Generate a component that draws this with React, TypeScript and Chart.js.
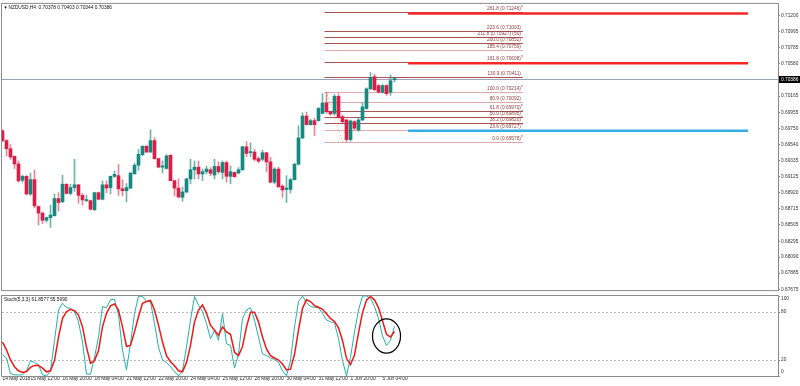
import React, { useEffect, useRef } from 'react';
import { Chart, registerables } from 'chart.js';

Chart.register(...registerables);

// ---------- data ----------
const SYMBOL = 'NZDUSD';
const PERIOD = 'H4';

const OPEN = [0.69718,0.69591,0.69486,0.69388,0.69290,0.69080,0.69131,0.68903,0.69088,0.68742,
0.68657,0.68565,0.68599,0.68624,0.68844,0.68802,0.69029,0.68911,0.68986,0.69021,
0.68885,0.68818,0.68818,0.68700,0.68920,0.68835,0.69021,0.68986,0.69131,0.69139,
0.68970,0.68945,0.68979,0.69164,0.69274,0.69410,0.69519,0.69443,0.69591,0.69359,
0.69249,0.69232,0.69401,0.69075,0.68979,0.68860,0.68929,0.69097,0.69215,0.69249,
0.69161,0.69190,0.69215,0.69148,0.69258,0.69181,0.69308,0.69131,0.69181,0.69173,
0.69215,0.69511,0.69436,0.69443,0.69359,0.69350,0.69435,0.69317,0.69055,0.69224,
0.69004,0.68962,0.68962,0.69088,0.69287,0.69625,0.69907,0.69797,0.69848,0.69848,
0.69941,0.70076,0.69962,0.69941,0.70161,0.69899,0.69857,0.69604,0.69835,0.69730,
0.69857,0.70005,0.70258,0.70414,0.70300,0.70215,0.70300,0.70215,0.70378];
const HIGH = [0.69730,0.69604,0.69540,0.69395,0.69329,0.69148,0.69141,0.69173,0.69211,0.68748,
0.68666,0.68607,0.68759,0.68903,0.68920,0.69148,0.69034,0.69029,0.69350,0.69027,
0.68911,0.68885,0.68825,0.68926,0.68929,0.69072,0.69072,0.69135,0.69198,0.69284,
0.69088,0.69037,0.69178,0.69300,0.69477,0.69521,0.69524,0.69730,0.69629,0.69363,
0.69329,0.69410,0.69410,0.69078,0.69097,0.68992,0.69106,0.69350,0.69329,0.69329,
0.69224,0.69258,0.69243,0.69350,0.69317,0.69329,0.69329,0.69265,0.69186,0.69243,
0.69519,0.69578,0.69562,0.69477,0.69384,0.69468,0.69439,0.69376,0.69243,0.69249,
0.69021,0.69139,0.69106,0.69300,0.69781,0.69949,0.69958,0.69866,0.69878,0.70018,
0.70195,0.70214,0.69971,0.70186,0.70195,0.69920,0.69863,0.69857,0.69848,0.69878,
0.70076,0.70271,0.70469,0.70448,0.70313,0.70313,0.70313,0.70439,0.70403];
const LOW = [0.69578,0.69393,0.69350,0.69232,0.69055,0.69055,0.68894,0.68885,0.68726,0.68505,
0.68523,0.68540,0.68472,0.68616,0.68683,0.68793,0.68903,0.68894,0.68936,0.68784,
0.68759,0.68802,0.68692,0.68692,0.68827,0.68827,0.68920,0.68903,0.69113,0.68885,
0.68877,0.68802,0.68970,0.69156,0.69207,0.69393,0.69439,0.69439,0.69350,0.69240,
0.69173,0.69224,0.69072,0.68877,0.68852,0.68809,0.68916,0.69034,0.69097,0.69097,
0.69075,0.69161,0.69139,0.69097,0.69164,0.69097,0.69055,0.69034,0.69118,0.69164,
0.69207,0.69384,0.69384,0.69329,0.69308,0.69329,0.69190,0.69046,0.69034,0.68986,
0.68860,0.68793,0.68916,0.69080,0.69274,0.69617,0.69789,0.69789,0.69654,0.69840,
0.69933,0.69941,0.69920,0.69920,0.69878,0.69815,0.69576,0.69582,0.69730,0.69709,
0.69848,0.69992,0.70246,0.70237,0.70202,0.70202,0.70173,0.70173,0.70344];
const CLOSE = [0.69591,0.69486,0.69380,0.69290,0.69072,0.69131,0.68903,0.69088,0.68751,0.68657,
0.68565,0.68599,0.68632,0.68844,0.68793,0.69029,0.68911,0.68986,0.69021,0.68885,
0.68827,0.68822,0.68708,0.68920,0.68835,0.69021,0.68979,0.69131,0.69156,0.68970,
0.68945,0.68986,0.69173,0.69274,0.69414,0.69519,0.69443,0.69591,0.69359,0.69249,
0.69265,0.69393,0.69075,0.68979,0.68865,0.68929,0.69097,0.69215,0.69249,0.69161,
0.69190,0.69224,0.69169,0.69258,0.69190,0.69308,0.69131,0.69190,0.69126,0.69215,
0.69511,0.69426,0.69439,0.69350,0.69325,0.69435,0.69317,0.69055,0.69224,0.68996,
0.68954,0.68979,0.69088,0.69287,0.69625,0.69907,0.69797,0.69848,0.69797,0.70005,
0.70076,0.69962,0.69933,0.70161,0.69891,0.69835,0.69604,0.69844,0.69751,0.69857,
0.70025,0.70258,0.70405,0.70246,0.70215,0.70300,0.70195,0.70363,0.70386];

const STOCH_K = [26.8,22.5,3.1,1.4,1.4,1.4,6.5,19.2,17.0,14.1,
1.4,0.1,6.5,44.5,82.5,91.0,85.5,84.6,80.4,67.7,
42.4,2.3,2.3,23.4,48.7,86.8,85.5,95.2,96.1,76.2,
31.8,7.7,40.3,78.3,99.9,99.4,93.1,93.1,65.6,36.1,
20.0,17.0,11.6,5.6,0.1,6.5,36.1,69.9,99.4,88.9,
80.4,65.6,46.6,57.2,44.5,78.3,40.3,38.2,9.9,27.6,
72.0,82.5,85.5,69.9,48.7,27.6,25.5,22.5,20.8,17.0,
6.5,0.1,19.2,61.4,93.1,100,91.8,86.8,85.9,85.5,
78.3,69.9,67.7,66.5,46.6,19.2,0.1,23.4,55.1,82.5,
100,100,97.3,86.8,72.0,50.0,38.2,44.5,61.9];
const STOCH_D = [42.4,32.7,20.0,11.6,6.5,4.4,5.6,10.7,13.2,13.2,
9.9,5.2,6.5,19.2,48.7,72.0,80.4,83.4,81.7,76.2,
61.4,36.1,15.8,19.2,31.8,61.4,78.3,87.6,90.1,82.5,
61.4,36.9,38.2,55.1,74.1,91.0,93.1,94.4,82.5,63.5,
42.4,25.5,17.9,12.8,6.5,5.2,17.0,38.2,67.7,82.5,
88.9,78.3,63.5,57.2,50.8,61.4,55.1,52.1,29.7,25.5,
36.9,61.4,79.6,79.6,67.7,48.7,33.9,25.5,22.5,20.0,
14.9,7.7,8.6,26.8,57.2,84.6,95.2,93.1,88.0,85.9,
83.4,77.9,72.0,68.2,60.1,44.5,22.1,14.1,26.3,53.8,
79.2,94.8,99.4,95.2,85.5,69.0,52.0,48.7,55.6];
const STOCH_NAME = 'Stoch(5,3,3)';
const STOCH_HEADER = [61.8577, 55.599];
const STOCH_LEVELS = [80, 20];
const STOCH_TICKS = [100, 80, 20, 0];

const TIME_LABEL_BARS = [0, 7, 15, 23, 31, 39, 47, 55, 63, 71, 79, 87, 95];
const TIME_LABELS = ['14 May 2018', '15 May 12:00', '16 May 20:00', '18 May 04:00', '21 May 12:00',
  '22 May 20:00', '24 May 04:00', '25 May 12:00', '28 May 20:00', '30 May 04:00', '31 May 12:00',
  '1 Jun 20:00', '5 Jun 04:00'];

const PRICE_TICKS = [0.712, 0.70995, 0.70785, 0.7058, 0.70165, 0.69955, 0.6975, 0.6954, 0.69335,
  0.69125, 0.6892, 0.68715, 0.68505, 0.68295, 0.6809, 0.67885, 0.67675];

const FIB_LEVELS = [261.8, 223.6, 211.8, 200.0, 185.4, 161.8, 130.9, 100.0, 80.9, 61.8, 50.0, 38.2, 23.6, 0.0];
const FIB_PRICES = [0.71246, 0.71003, 0.70927, 0.70852, 0.70759, 0.70608, 0.70411, 0.70214, 0.70092,
  0.6997, 0.69895, 0.6982, 0.69727, 0.69576];
const FIB_SUFFIX = ['', '', ' (50)', '', '', '', '', '', '', '', '', '', '', ''];
const FIB_MARK = [true, false, false, false, false, true, false, true, false, true, true, true, true, true];
const FIB_DARK = [true, true, true, true, false, true, true, false, false, true, true, true, false, false];
const FIB_SPAN_BARS = [80.5, 130.1];
const FIB_TREND_BARS = [81, 85];
const FIB_TREND_PRICES = [0.70214, 0.69576];

const HLINE_PRICES = [0.71229, 0.70588, 0.69718];
const HLINE_COLORS = ['#f52828', '#f52828', '#35aee6'];
const HLINE_SPAN_BARS = [101.4, 186.4];

const CIRCLE_CENTER = [96, 50];
const CIRCLE_RADII = [3.5, 21.5];

// ---------- style ----------
const FONT_FAMILY = '"Liberation Sans", Arial, sans-serif';
const FONT_SIZE = 4.8;
const X_MIN = -0.125;
const X_MAX = 193.875;
const PRICE_MIN = 0.67652;
const PRICE_MAX = 0.71352;
const BULL = '#14897f';
const BULL_WICK = 'rgba(20,137,127,0.62)';
const BEAR = '#de1d47';
const BEAR_WICK = 'rgba(222,29,71,0.55)';
const FRAME = '#8a8a8a';

const font = (size = FONT_SIZE) => `${size}px ${FONT_FAMILY}`;

const mainPlugin = {
  id: 'mt4main',
  beforeDatasetsDraw(chart: any) {
    const { ctx, chartArea: a, scales } = chart;
    const x = scales.x, y = scales.y;
    ctx.save();
    ctx.beginPath();
    ctx.rect(a.left, a.top, a.right - a.left, a.bottom - a.top);
    ctx.clip();
    // current price line
    const last = CLOSE.length - 1;
    const cy = Math.round(y.getPixelForValue(CLOSE[last])) + 0.5;
    ctx.strokeStyle = '#98a4b7';
    ctx.lineWidth = 1;
    ctx.beginPath(); ctx.moveTo(a.left, cy); ctx.lineTo(a.right, cy); ctx.stroke();

    // fibonacci
    const fx1 = x.getPixelForValue(FIB_SPAN_BARS[0]);
    const fx2 = x.getPixelForValue(FIB_SPAN_BARS[1]);
    ctx.font = font();
    FIB_PRICES.forEach((p, i) => {
      const py = Math.round(y.getPixelForValue(p)) + 0.5;
      ctx.strokeStyle = FIB_DARK[i] ? '#a85454' : '#dcaaaa';
      ctx.lineWidth = 1;
      ctx.beginPath(); ctx.moveTo(fx1, py); ctx.lineTo(fx2, py); ctx.stroke();
      ctx.fillStyle = '#8e3b3b';
      ctx.textAlign = 'right';
      ctx.textBaseline = 'alphabetic';
      const label = `${FIB_LEVELS[i].toFixed(1)} (${p.toFixed(5)})${FIB_SUFFIX[i]}`;
      ctx.fillText(label, fx2 - 2, py - 2.5);
      if (FIB_MARK[i]) {
        ctx.textAlign = 'left';
        ctx.fillText('*', fx2 - 1.8, py - 4);
      }
    });
    // fib trend line (dotted)
    ctx.strokeStyle = '#f3b56a';
    ctx.setLineDash([1, 2]);
    ctx.beginPath();
    ctx.moveTo(x.getPixelForValue(FIB_TREND_BARS[0]), y.getPixelForValue(FIB_TREND_PRICES[0]));
    ctx.lineTo(x.getPixelForValue(FIB_TREND_BARS[1]), y.getPixelForValue(FIB_TREND_PRICES[1]));
    ctx.stroke();
    ctx.setLineDash([]);

    // thick horizontal lines
    const hx1 = x.getPixelForValue(HLINE_SPAN_BARS[0]);
    const hx2 = x.getPixelForValue(HLINE_SPAN_BARS[1]);
    HLINE_PRICES.forEach((p, i) => {
      const py = y.getPixelForValue(p);
      ctx.strokeStyle = HLINE_COLORS[i];
      ctx.lineWidth = 2.4;
      ctx.beginPath(); ctx.moveTo(hx1, py); ctx.lineTo(hx2, py); ctx.stroke();
    });
    ctx.restore();
  },
  afterDraw(chart: any) {
    const { ctx, chartArea: a, scales } = chart;
    const y = scales.y;
    ctx.save();
    ctx.strokeStyle = FRAME;
    ctx.lineWidth = 1;
    ctx.beginPath();
    ctx.moveTo(a.left - 0.5, a.bottom - 0.5);
    ctx.lineTo(a.left - 0.5, a.top - 0.5);
    ctx.lineTo(a.right + 0.5, a.top - 0.5);
    ctx.lineTo(a.right + 0.5, a.bottom);
    ctx.moveTo(a.left - 0.5, a.bottom - 0.5);
    ctx.lineTo(a.right + 0.5, a.bottom - 0.5);
    ctx.stroke();

    // title
    const last = CLOSE.length - 1;
    ctx.fillStyle = '#111';
    ctx.font = font(4.2);
    ctx.textBaseline = 'middle';
    ctx.textAlign = 'left';
    ctx.fillText('\u25BC', a.left + 1.5, a.top + 3.6);
    ctx.font = font();
    ctx.fillText(`${SYMBOL},${PERIOD}  ${OPEN[last].toFixed(5)} ${HIGH[last].toFixed(5)} ${LOW[last].toFixed(5)} ${CLOSE[last].toFixed(5)}`,
      a.left + 6.5, a.top + 3.4);

    // current price box
    const cy = Math.round(y.getPixelForValue(CLOSE[last])) + 0.5;
    ctx.fillStyle = '#000';
    ctx.fillRect(a.right + 1, cy - 3.5, chart.width - a.right - 1, 7);
    ctx.fillStyle = '#fff';
    ctx.fillText(CLOSE[last].toFixed(5), a.right + 3, cy + 0.2);
    ctx.restore();
  }
};

const stochPlugin = {
  id: 'mt4stoch',
  beforeDatasetsDraw(chart: any) {
    const { ctx, chartArea: a, scales } = chart;
    const y = scales.y;
    ctx.save();
    ctx.strokeStyle = '#b8b8b8';
    ctx.lineWidth = 1;
    ctx.setLineDash([2, 2]);
    STOCH_LEVELS.forEach((v) => {
      const py = Math.round(y.getPixelForValue(v)) + 0.5;
      ctx.beginPath(); ctx.moveTo(a.left, py); ctx.lineTo(a.right, py); ctx.stroke();
    });
    ctx.restore();
  },
  afterDraw(chart: any) {
    const { ctx, chartArea: a, scales } = chart;
    const x = scales.x, y = scales.y;
    ctx.save();
    ctx.strokeStyle = FRAME;
    ctx.lineWidth = 1;
    ctx.beginPath();
    ctx.moveTo(a.left - 0.5, a.bottom + 0.5);
    ctx.lineTo(a.left - 0.5, a.top - 0.5);
    ctx.lineTo(a.right + 0.5, a.top - 0.5);
    ctx.lineTo(a.right + 0.5, a.bottom + 0.5);
    ctx.lineTo(a.left - 0.5, a.bottom + 0.5);
    ctx.stroke();

    // y labels
    ctx.font = font();
    ctx.fillStyle = '#333';
    ctx.textAlign = 'left';
    ctx.textBaseline = 'middle';
    STOCH_TICKS.forEach((v) => {
      const py = y.getPixelForValue(v);
      let ly = py;
      if (v === 100) ly = py + 3;
      if (v === 0) ly = py - 4;
      ctx.beginPath(); ctx.moveTo(a.right, Math.round(py) + 0.5); ctx.lineTo(a.right + 2, Math.round(py) + 0.5); ctx.stroke();
      ctx.fillText(String(v), a.right + 3, ly);
    });

    // header
    ctx.fillStyle = '#111';
    ctx.fillText(`${STOCH_NAME} ${STOCH_HEADER[0].toFixed(4)} ${STOCH_HEADER[1].toFixed(4)}`, a.left + 2, a.top + 4);

    // annotation ellipse
    const cx = x.getPixelForValue(CIRCLE_CENTER[0]);
    const cyy = y.getPixelForValue(CIRCLE_CENTER[1]);
    const rx = x.getPixelForValue(CIRCLE_CENTER[0] + CIRCLE_RADII[0]) - cx;
    const ry = cyy - y.getPixelForValue(CIRCLE_CENTER[1] + CIRCLE_RADII[1]);
    ctx.strokeStyle = '#000';
    ctx.lineWidth = 1.2;
    ctx.beginPath();
    ctx.ellipse(cx, cyy, rx, ry, 0, 0, Math.PI * 2);
    ctx.stroke();
    ctx.restore();
  }
};

export default function App() {
  const mainRef = useRef<HTMLCanvasElement>(null);
  const stochRef = useRef<HTMLCanvasElement>(null);

  useEffect(() => {
    const idx = OPEN.map((_, i) => i);
    const bull = idx.map((i) => CLOSE[i] >= OPEN[i]);
    const main = new Chart(mainRef.current as HTMLCanvasElement, {
      type: 'bar',
      data: {
        datasets: [
          {
            data: idx.map((i) => ({ x: i, y: [LOW[i], HIGH[i]] })) as any,
            backgroundColor: bull.map((b) => (b ? BULL_WICK : BEAR_WICK)),
            barThickness: 1,
            grouped: false,
            borderWidth: 0,
            order: 1,
          },
          {
            data: idx.map((i) => ({ x: i, y: [OPEN[i], CLOSE[i]] })) as any,
            backgroundColor: bull.map((b) => (b ? BULL : BEAR)),
            barThickness: 3,
            grouped: false,
            borderWidth: 0,
            minBarLength: 1,
            order: 0,
          },
        ],
      },
      options: {
        animation: false,
        responsive: false,
        devicePixelRatio: 1,
        events: [],
        layout: { padding: { left: 2, top: 2, right: 0, bottom: 1 } },
        plugins: { legend: { display: false }, tooltip: { enabled: false }, title: { display: false } },
        scales: {
          x: { type: 'linear', min: X_MIN, max: X_MAX, display: false, offset: false },
          y: {
            type: 'linear',
            position: 'right',
            min: PRICE_MIN,
            max: PRICE_MAX,
            afterFit: (s: any) => { s.width = 22; },
            afterBuildTicks: (s: any) => { s.ticks = PRICE_TICKS.map((v) => ({ value: v })); },
            ticks: {
              autoSkip: false,
              padding: 1,
              color: '#333',
              font: { family: FONT_FAMILY, size: FONT_SIZE },
              callback: (v: any) => Number(v).toFixed(5),
            },
            grid: { drawOnChartArea: false, drawTicks: true, tickLength: 2, color: FRAME },
            border: { display: false },
          },
        },
      } as any,
      plugins: [mainPlugin],
    });

    const stoch = new Chart(stochRef.current as HTMLCanvasElement, {
      type: 'line',
      data: {
        datasets: [
          {
            data: STOCH_K.map((v, i) => ({ x: i, y: v })),
            borderColor: '#25b0a6',
            borderWidth: 1,
            pointRadius: 0,
            tension: 0,
            order: 1,
          },
          {
            data: STOCH_D.map((v, i) => ({ x: i, y: v })),
            borderColor: '#f01818',
            borderWidth: 1.5,
            pointRadius: 0,
            tension: 0,
            order: 0,
          },
        ],
      },
      options: {
        animation: false,
        responsive: false,
        devicePixelRatio: 1,
        events: [],
        layout: { padding: { left: 2, top: 1, right: 0, bottom: 0 } },
        plugins: { legend: { display: false }, tooltip: { enabled: false }, title: { display: false } },
        scales: {
          x: {
            type: 'linear',
            min: X_MIN,
            max: X_MAX,
            offset: false,
            afterFit: (s: any) => { s.height = 10; },
            afterBuildTicks: (s: any) => { s.ticks = TIME_LABEL_BARS.map((v) => ({ value: v })); },
            ticks: {
              autoSkip: false,
              maxRotation: 0,
              minRotation: 0,
              align: 'start',
              padding: 0,
              color: '#222',
              font: { family: FONT_FAMILY, size: FONT_SIZE },
              callback: (v: any) => {
                const k = TIME_LABEL_BARS.indexOf(Number(v));
                return k >= 0 ? TIME_LABELS[k] : '';
              },
            },
            grid: { drawOnChartArea: false, drawTicks: false },
            border: { display: false },
          },
          y: {
            type: 'linear',
            position: 'right',
            min: 0,
            max: 100,
            afterFit: (s: any) => { s.width = 22; },
            ticks: { display: false },
            grid: { display: false },
            border: { display: false },
          },
        },
      } as any,
      plugins: [stochPlugin],
    });

    return () => {
      main.destroy();
      stoch.destroy();
    };
  }, []);

  return (
    <div style={{ position: 'fixed', left: 0, top: 0, width: 800, height: 386, background: '#fff' }}>
      <canvas ref={mainRef} width={800} height={295}
        style={{ position: 'absolute', left: 0, top: 0, width: 800, height: 295 }} />
      <canvas ref={stochRef} width={800} height={91}
        style={{ position: 'absolute', left: 0, top: 295, width: 800, height: 91 }} />
    </div>
  );
}
